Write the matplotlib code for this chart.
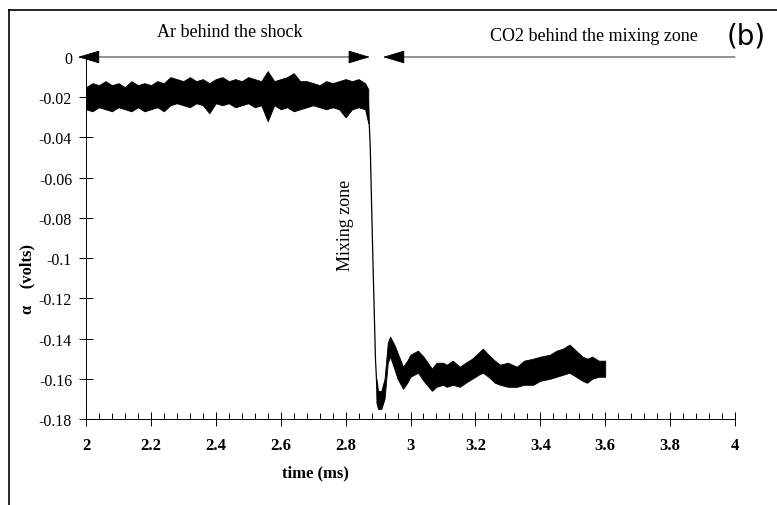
import matplotlib
matplotlib.use("Agg")
import matplotlib.pyplot as plt
from matplotlib.lines import Line2D
from matplotlib.ticker import MultipleLocator

plt.rcParams['font.family'] = ['Liberation Serif', 'DejaVu Serif']

# signal envelope (time in ms, alpha in volts)
t_pre = [2.00, 2.02, 2.04, 2.06, 2.08, 2.10, 2.12, 2.14, 2.16, 2.18, 2.20, 2.22, 2.24, 2.26, 2.28,
         2.30, 2.32, 2.34, 2.36, 2.38, 2.40, 2.42, 2.44, 2.46, 2.48, 2.50, 2.52, 2.54, 2.56, 2.58,
         2.60, 2.62, 2.64, 2.66, 2.68, 2.70, 2.72, 2.74, 2.76, 2.78, 2.80, 2.82, 2.84, 2.86, 2.87]
up_pre = [-0.015, -0.013, -0.014, -0.012, -0.014, -0.013, -0.015, -0.012, -0.014, -0.013, -0.014,
          -0.012, -0.013, -0.010, -0.011, -0.012, -0.010, -0.012, -0.011, -0.013, -0.011, -0.010,
          -0.012, -0.011, -0.012, -0.010, -0.011, -0.012, -0.007, -0.012, -0.011, -0.010, -0.008,
          -0.012, -0.012, -0.013, -0.014, -0.012, -0.013, -0.012, -0.011, -0.012, -0.011, -0.013,
          -0.016]
lo_pre = [-0.026, -0.027, -0.025, -0.026, -0.027, -0.025, -0.026, -0.027, -0.025, -0.027, -0.026,
          -0.025, -0.027, -0.024, -0.023, -0.024, -0.025, -0.023, -0.024, -0.028, -0.023, -0.024,
          -0.023, -0.025, -0.024, -0.023, -0.025, -0.024, -0.032, -0.024, -0.026, -0.025, -0.027,
          -0.026, -0.025, -0.024, -0.025, -0.026, -0.025, -0.026, -0.030, -0.026, -0.025, -0.026,
          -0.033]

t_drop = [2.870, 2.876, 2.884, 2.892, 2.898]
a_drop = [-0.022, -0.045, -0.100, -0.150, -0.170]

t_post = [2.895, 2.900, 2.910, 2.920, 2.930, 2.937, 2.950, 2.960, 2.977, 2.990, 3.000, 3.023, 3.040,
          3.066, 3.080, 3.100, 3.112, 3.130, 3.152, 3.170, 3.190, 3.210, 3.223, 3.240, 3.260, 3.276,
          3.300, 3.328, 3.350, 3.378, 3.400, 3.430, 3.450, 3.470, 3.490, 3.510, 3.530, 3.544, 3.560,
          3.580, 3.600]
up_post = [-0.160, -0.166, -0.166, -0.160, -0.142, -0.139, -0.143, -0.147, -0.154, -0.151, -0.148,
           -0.146, -0.149, -0.155, -0.152, -0.152, -0.153, -0.151, -0.154, -0.152, -0.150, -0.147,
           -0.145, -0.148, -0.151, -0.153, -0.152, -0.154, -0.151, -0.150, -0.149, -0.148, -0.146,
           -0.145, -0.143, -0.146, -0.149, -0.150, -0.149, -0.151, -0.151]
lo_post = [-0.172, -0.175, -0.175, -0.170, -0.152, -0.149, -0.155, -0.160, -0.165, -0.162, -0.159,
           -0.157, -0.161, -0.166, -0.164, -0.163, -0.164, -0.163, -0.164, -0.162, -0.160, -0.158,
           -0.157, -0.159, -0.162, -0.163, -0.164, -0.164, -0.163, -0.163, -0.161, -0.160, -0.159,
           -0.158, -0.157, -0.159, -0.161, -0.162, -0.160, -0.159, -0.159]

x_ticks = [2, 2.2, 2.4, 2.6, 2.8, 3, 3.2, 3.4, 3.6, 3.8, 4]
x_labels = ['2', '2.2', '2.4', '2.6', '2.8', '3', '3.2', '3.4', '3.6', '3.8', '4']
y_ticks = [0, -0.02, -0.04, -0.06, -0.08, -0.1, -0.12, -0.14, -0.16, -0.18]
y_labels = ['0', '-0.02', '-0.04', '-0.06', '-0.08', '-0.1', '-0.12', '-0.14', '-0.16', '-0.18']

fig = plt.figure(figsize=(7.77, 5.06), dpi=100)
ax = fig.add_axes([86 / 777, 1 - 420 / 506, (735 - 86) / 777, (420 - 58) / 506])

ax.fill_between(t_pre, lo_pre, up_pre, color='black', lw=0.6)
ax.plot(t_drop, a_drop, color='black', lw=0.9)
ax.fill_between(t_post, lo_post, up_post, color='black', lw=0.6)

ax.set_xlim(2, 4)
ax.set_ylim(-0.18, 0)
for s in ['top', 'right']:
    ax.spines[s].set_visible(False)
for s in ['left', 'bottom']:
    ax.spines[s].set_linewidth(0.7)

ax.set_xticks(x_ticks)
ax.set_xticklabels(x_labels, fontweight='bold', fontsize=12)
ax.set_yticks(y_ticks)
ax.set_yticklabels(y_labels, fontsize=11.5)
ax.xaxis.set_minor_locator(MultipleLocator(0.04))
ax.tick_params(axis='x', which='major', direction='inout', length=10, width=0.7, pad=8)
ax.tick_params(axis='x', which='minor', direction='in', length=4, width=0.7)
ax.tick_params(axis='y', which='major', direction='inout', length=10, width=0.7, pad=5)

# arrows along the top
ax.annotate('', xy=(1.975, 0), xytext=(2.875, 0), annotation_clip=False,
            arrowprops=dict(arrowstyle='<|-|>,head_length=1.4,head_width=0.42', color='black', lw=0.6,
                            shrinkA=0, shrinkB=0))
ax.annotate('', xy=(2.915, 0), xytext=(4.0, 0), annotation_clip=False,
            arrowprops=dict(arrowstyle='-|>,head_length=1.4,head_width=0.42', color='black', lw=0.6,
                            shrinkA=0, shrinkB=0))

ax.text(2.444, 0.0125, 'Ar behind the shock', ha='center', va='center', fontsize=13)
ax.text(3.565, 0.0105, 'CO2 behind the mixing zone', ha='center', va='center', fontsize=13)
ax.text(4.034, 0.0105, '(b)', ha='center', va='center', fontsize=20, family='DejaVu Sans')
ax.text(2.80, -0.083, 'Mixing zone', rotation=90, ha='center', va='center', fontsize=13)

fig.text(27 / 777, 1 - 279 / 506, 'α    (volts)', rotation=90, ha='center', va='center',
         fontsize=12, fontweight='bold')
fig.text(315 / 777, 1 - 473 / 506, 'time (ms)', ha='center', va='center', fontsize=12,
         fontweight='bold')

# scanned page frame
fig.add_artist(Line2D([9 / 777, 9 / 777], [0, 1 - 11 / 506], color='black', lw=1.2,
                      transform=fig.transFigure))
fig.add_artist(Line2D([9 / 777, 1], [1 - 11 / 506, 1 - 11 / 506], color='black', lw=1.2,
                      transform=fig.transFigure))

fig.savefig('out.png', dpi=100)
